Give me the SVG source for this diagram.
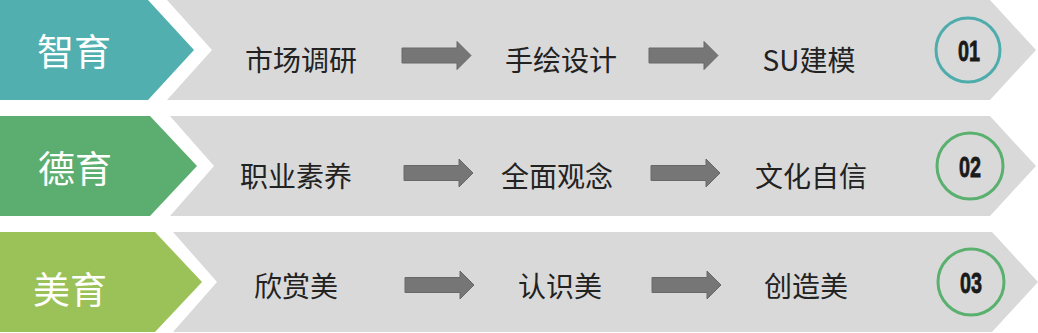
<svg xmlns="http://www.w3.org/2000/svg" width="1038" height="333" viewBox="0 0 1038 333">
<defs>
<style>
.band{fill:#D9D9D9;}
.lbl{font-family:"Noto Sans CJK SC","Noto Sans",sans-serif;font-size:37px;fill:#FFFFFF;text-anchor:middle;dominant-baseline:central;}
.txt{font-family:"Noto Sans CJK SC","Noto Sans",sans-serif;font-size:28px;fill:#222222;text-anchor:middle;dominant-baseline:central;}
.num{font-family:"Liberation Sans",Arial,sans-serif;font-weight:bold;font-size:29px;fill:#1A1A1A;stroke:#1A1A1A;stroke-width:0.8;text-anchor:middle;}
.arr{fill:#767676;stroke:#686868;stroke-width:1;}
.ring{fill:none;stroke-width:3;}
</style>
<path id="arrowShape" d="M0,-7.5 L55,-7.5 L55,-14 L69,0 L55,14 L55,7.5 L0,7.5 Z"/>
</defs>
<rect width="1038" height="333" fill="#FFFFFF"/>

<g id="row1">
<polygon class="band" points="167,0 990,0 1036,50 990,100 167,100 212,50"/>
<polygon fill="#52AFAF" points="0,0 148,0 194,50 148,100 0,100"/>
<text class="lbl" x="74" y="50">智育</text>
<text class="txt" x="301" y="59">市场调研</text>
<text class="txt" x="561" y="59">手绘设计</text>
<text class="txt" x="809" y="59">SU建模</text>
<circle class="ring" stroke="#4EADAC" cx="968" cy="50" r="32"/>
<text class="num" x="969" y="60.5" textLength="22" lengthAdjust="spacingAndGlyphs">01</text>
</g>

<g id="row2">
<polygon class="band" points="170,116 990,116 1036,166 990,216 170,216 214,166"/>
<polygon fill="#5CAE70" points="0,116 150,116 197,166 150,216 0,216"/>
<text class="lbl" x="75" y="167">德育</text>
<text class="txt" x="296" y="175">职业素养</text>
<text class="txt" x="557" y="175">全面观念</text>
<text class="txt" x="811" y="175">文化自信</text>
<circle class="ring" stroke="#5AB06E" cx="970" cy="166" r="33"/>
<text class="num" x="970" y="176.5" textLength="22" lengthAdjust="spacingAndGlyphs">02</text>
</g>

<g id="row3">
<polygon class="band" points="173,232 992,232 1038,282 992,332 173,332 217,282"/>
<polygon fill="#9BC258" points="0,232 155,232 202,282 155,332 0,332"/>
<text class="lbl" x="70" y="288">美育</text>
<text class="txt" x="296" y="285">欣赏美</text>
<text class="txt" x="560" y="285">认识美</text>
<text class="txt" x="806" y="285">创造美</text>
<circle class="ring" stroke="#5AB06E" cx="971" cy="282" r="33"/>
<text class="num" x="971" y="292.5" textLength="22" lengthAdjust="spacingAndGlyphs">03</text>
</g>

<g id="connectors">
<use href="#arrowShape" class="arr" transform="translate(402,55.5)"/>
<use href="#arrowShape" class="arr" transform="translate(649,55.5)"/>
<use href="#arrowShape" class="arr" transform="translate(404,173)"/>
<use href="#arrowShape" class="arr" transform="translate(651,173)"/>
<use href="#arrowShape" class="arr" transform="translate(405,285)"/>
<use href="#arrowShape" class="arr" transform="translate(652,285)"/>
</g>
</svg>
